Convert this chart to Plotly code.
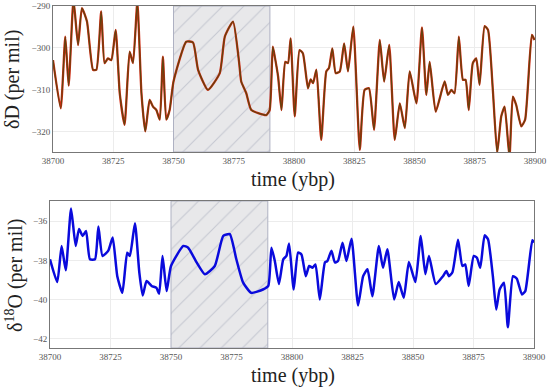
import plotly.graph_objects as go

# ---------------- data ----------------
dD_time = [38700, 38703.2, 38705.1, 38706.5, 38708.5, 38710.4, 38712, 38714.1, 38716.6, 38718,
           38720, 38721.4, 38722.8, 38724.2, 38726, 38727.7, 38729.7, 38731.8, 38733.2, 38735,
           38736.7, 38738.3, 38740.1, 38741.5, 38742.9, 38744.3, 38745.6, 38747, 38748.4, 38750,
           38755.3, 38758.1, 38760.2, 38764.3, 38769.2, 38771.3, 38774.7, 38777.2, 38778.1, 38780.2,
           38782.3, 38788.5, 38789.9, 38791.2, 38792, 38793.4, 38794.8, 38796.4, 38797.5, 38798.6,
           38800.3, 38802.3, 38803.7, 38805.8, 38806.9, 38807.9, 38809.3, 38811.3, 38813.4, 38814.5,
           38815.9, 38817.3, 38819, 38820.8, 38822.4, 38824.6, 38827.3, 38829.3, 38831.1, 38833.2,
           38835.6, 38837.4, 38839.5, 38841.8, 38843.9, 38846, 38848, 38850.8, 38853.1, 38854.9,
           38856.3, 38858.8, 38862.5, 38863.9, 38865.3, 38866.6, 38868.4, 38870.1, 38871.2, 38872.5,
           38874.2, 38875.6, 38877, 38879.1, 38880.5, 38882.5, 38884.3, 38886, 38887.4, 38889.4,
           38890.8, 38892.2, 38894.3, 38895.9, 38898.7, 38899.8]
dD_value = [-302.9, -314.4, -297.3, -309.0, -288.5, -299.3, -290.5, -293.7, -305.2, -305.2,
            -291.3, -303.6, -302.5, -302.9, -295.7, -310.8, -318.3, -300.9, -303.6, -289.0,
            -310.8, -319.9, -312.4, -314.0, -314.8, -317.1, -302.1, -317.1, -314.8, -308.0,
            -298.5, -298.7, -305.2, -310.0, -306.0, -297.3, -293.7, -303.3, -308.0, -310.8,
            -314.8, -316.0, -314.8, -299.7, -302.0, -306.8, -314.8, -303.3, -303.6, -297.7,
            -316.3, -300.5, -301.3, -309.6, -307.5, -308.4, -305.2, -321.9, -305.6, -304.8,
            -300.1, -306.0, -305.6, -298.9, -305.6, -294.9, -324.3, -310.0, -309.6, -319.5,
            -298.1, -308.0, -299.3, -321.9, -313.2, -319.1, -305.6, -313.2, -295.1, -311.2,
            -303.3, -315.2, -308.0, -311.2, -310.0, -310.8, -297.3, -307.6, -307.6, -314.8,
            -303.6, -302.5, -308.8, -294.8, -295.7, -310.0, -325.0, -316.3, -314.0, -326.0,
            -311.6, -313.6, -318.7, -317.1, -296.9, -298.1]

d18O_time = [38700, 38703, 38704.8, 38706.5, 38708.7, 38710.6, 38712, 38713.5, 38714.9, 38716.5,
             38718.6, 38720, 38721.7, 38724.1, 38725.9, 38727.8, 38729.9, 38731.9, 38733, 38735.1,
             38736.9, 38738.3, 38739.9, 38742, 38744, 38745.1, 38746.5, 38748.2, 38750, 38755.1,
             38757.1, 38760.6, 38764, 38768.1, 38771.6, 38774.3, 38777, 38779.8, 38783.2, 38788,
             38790.2, 38791.5, 38792.9, 38794.6, 38796.4, 38797.7, 38798.8, 38800.7, 38802.5, 38803.9,
             38805.7, 38807.1, 38808.5, 38809.7, 38811.5, 38813.6, 38814.6, 38816.3, 38817.7, 38819,
             38820.9, 38822.5, 38824.6, 38827.3, 38829.4, 38831.2, 38833.2, 38835.9, 38837.6, 38839.4,
             38842.2, 38844.1, 38846.2, 38848.3, 38851, 38853.2, 38855.1, 38856.6, 38859.4, 38862.4,
             38863.8, 38864.8, 38866.3, 38868.6, 38870.4, 38871.6, 38873, 38875.1, 38876.4, 38877.8,
             38879.6, 38881, 38883, 38884.4, 38885.8, 38887.6, 38889.2, 38891.3, 38892.9, 38895,
             38896.4, 38899.3, 38900]
d18O_value = [-37.94, -39.10, -37.26, -38.50, -35.35, -37.26, -36.40, -36.75, -36.50, -37.94,
              -37.94, -36.27, -37.77, -37.50, -36.83, -38.80, -39.65, -37.60, -37.77, -36.10,
              -38.60, -39.78, -39.05, -39.30, -39.40, -39.70, -37.77, -39.56, -38.28, -37.26,
              -37.35, -38.10, -38.70, -38.28, -36.75, -36.66, -37.94, -39.13, -39.65, -39.48,
              -39.30, -37.35, -38.03, -39.20, -37.94, -37.77, -37.14, -39.48, -37.60, -37.69,
              -38.80, -38.28, -38.37, -38.20, -39.99, -38.10, -38.03, -37.50, -38.10, -38.03,
              -37.10, -38.03, -36.89, -40.29, -38.80, -38.45, -39.82, -37.26, -38.37, -37.43,
              -39.99, -39.10, -39.90, -38.08, -39.10, -36.75, -38.70, -37.77, -39.20, -38.80,
              -38.54, -38.80, -38.60, -36.95, -38.28, -38.20, -39.30, -37.77, -37.86, -38.37,
              -36.72, -36.92, -38.80, -40.50, -39.48, -39.13, -41.40, -38.80, -38.93, -39.73,
              -39.56, -36.97, -37.09]

shade_start, shade_end = 38750, 38790
x_ticks = [38700, 38725, 38750, 38775, 38800, 38825, 38850, 38875, 38900]
dD_ticks = [-290, -300, -310, -320]
d18O_ticks = [-36, -38, -40, -42]
dD_range = [-324.8, -290]
d18O_range = [-42.46, -34.97]
x_range = [38700, 38900]

# ---------------- figure ----------------
SERIF = "Liberation Serif, DejaVu Serif, serif"
fig = go.Figure()


def shade(xa, ya, yr):
    fig.add_trace(go.Scatter(
        x=[shade_start, shade_end, shade_end, shade_start, shade_start],
        y=[yr[0], yr[0], yr[1], yr[1], yr[0]],
        xaxis=xa, yaxis=ya, mode="lines", fill="toself",
        fillcolor="#e8e8ea",
        fillpattern=dict(shape="/", fgcolor="#a3a7b8", bgcolor="#e8e8ea", size=15, solidity=0.07),
        line=dict(color="#aeb1c2", width=1), hoverinfo="skip", showlegend=False))


shade("x", "y", dD_range)
shade("x2", "y2", d18O_range)

fig.add_trace(go.Scatter(x=dD_time, y=dD_value, xaxis="x", yaxis="y", mode="lines",
                         line=dict(color="#d42a12", width=2.3, shape="spline", smoothing=0.5),
                         showlegend=False))
fig.add_trace(go.Scatter(x=dD_time, y=dD_value, xaxis="x", yaxis="y", mode="lines",
                         line=dict(color="#3d4a0c", width=1.3, shape="spline", smoothing=0.5),
                         opacity=0.75, showlegend=False))
fig.add_trace(go.Scatter(x=d18O_time, y=d18O_value, xaxis="x2", yaxis="y2", mode="lines",
                         line=dict(color="#0a0adc", width=2.5, shape="spline", smoothing=0.5),
                         showlegend=False))

axis_common = dict(showgrid=True, gridcolor="#ececec", gridwidth=1, zeroline=False,
                   showline=True, linecolor="#777777", linewidth=1, mirror=True,
                   ticks="", automargin=False,
                   tickfont=dict(family=SERIF, size=9, color="#555555"))

fig.update_layout(
    width=550, height=392,
    margin=dict(l=0, r=0, t=0, b=0, autoexpand=False),
    paper_bgcolor="white", plot_bgcolor="white",
    xaxis=dict(domain=[53 / 550, 535 / 550], range=x_range, tickvals=x_ticks, tickformat="d",
               anchor="y", **axis_common),
    yaxis=dict(domain=[1 - 152 / 392, 1 - 6 / 392], range=dD_range, tickvals=dD_ticks,
               anchor="x", **axis_common),
    xaxis2=dict(domain=[50 / 550, 534 / 550], range=x_range, tickvals=x_ticks, tickformat="d",
                anchor="y2", **axis_common),
    yaxis2=dict(domain=[1 - 348 / 392, 1 - 201 / 392], range=d18O_range, tickvals=d18O_ticks,
                anchor="x2", **axis_common),
)

title_font = dict(family=SERIF, size=20, color="#222222")
fig.add_annotation(text="time (ybp)", x=293 / 550, y=1 - 180 / 392, xref="paper", yref="paper",
                   showarrow=False, font=title_font, xanchor="center", yanchor="middle")
fig.add_annotation(text="time (ybp)", x=293 / 550, y=1 - 375 / 392, xref="paper", yref="paper",
                   showarrow=False, font=title_font, xanchor="center", yanchor="middle")
fig.add_annotation(text="δD (per mil)", x=12 / 550, y=1 - 80 / 392, xref="paper", yref="paper",
                   showarrow=False, font=title_font, textangle=-90, xanchor="center", yanchor="middle")
fig.add_annotation(text="δ<sup>18</sup>O (per mil)", x=14 / 550, y=1 - 276 / 392, xref="paper",
                   yref="paper", showarrow=False, font=title_font, textangle=-90,
                   xanchor="center", yanchor="middle")

fig.write_html("out.html", config={"displayModeBar": False},
               post_script="document.body.style.margin='0';document.body.style.overflow='hidden';")
